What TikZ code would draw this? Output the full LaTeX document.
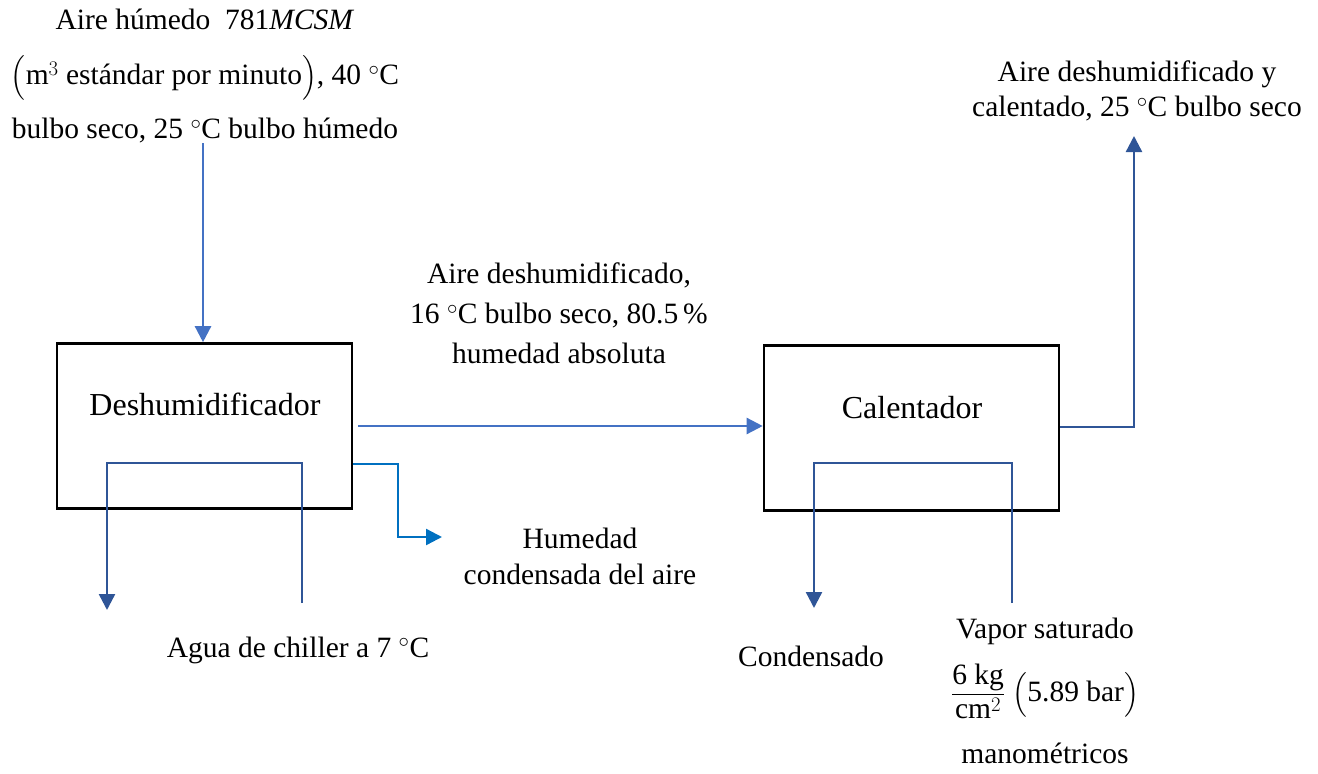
\documentclass[tikz,border=0pt]{standalone}
\usepackage{amsmath}
\usepackage{fontspec}
\setmainfont{Liberation Serif}
\usetikzlibrary{arrows.meta}
\definecolor{airblue}{HTML}{4472C4}
\definecolor{waterblue}{HTML}{2F5597}
\definecolor{dropblue}{HTML}{0070C0}

\begin{document}
\begin{tikzpicture}[x=1pt, y=-1pt,
        unit/.style={draw, line width=2.6pt, minimum width=295pt, minimum height=165pt},
        unitname/.style={anchor=base, font=\fontsize{32}{38}\selectfont},
        flow/.style={line width=2.4pt, -{Triangle[length=16pt,width=16pt]}},
        txt/.style={align=center, inner sep=0pt, font=\fontsize{29.5}{34}\selectfont}]
        \useasboundingbox (0,0) rectangle (1318,774);
        % equipos
        \node[unit] (desh) at (204.5,426) {};
        \node[unit] (calen) at (911.5,428) {};
        \node[unitname] at (205,415) {Deshumidificador};
        \node[unitname] at (912,418) {Calentador};
        % puntos libres de las corrientes
        \coordinate (feed) at (203,143);
        \coordinate (product) at (1134,136);
        \coordinate (drain) at (442,537);
        \coordinate (chw in) at (302,603);
        \coordinate (chw out) at (107,610);
        \coordinate (steam in) at (1012,603);
        \coordinate (cond out) at (814,608);
        % corrientes de aire
        \draw[flow, airblue] (feed) -- (feed |- desh.north);
        \draw[flow, airblue] ([xshift=5pt]desh.east |- 0,426) -- (calen.west |- 0,426);
        \draw[flow, waterblue] (calen.east |- 0,427) -| (product);
        \draw[flow, dropblue] (desh.east |- 0,464) -| (398,500) |- (drain);
        % agua de chiller y vapor
        \draw[flow, waterblue] (chw in) |- (200,463) -| (chw out);
        \draw[flow, waterblue] (steam in) |- (900,463) -| (cond out);
        % etiquetas
        \node[txt, anchor=north, font=\fontsize{29.5}{54.5}\selectfont] at (205,9)
            {Aire húmedo\ \ 781\textit{MCSM}\\
             $\Bigl($m$^3$ estándar por minuto$\Bigr)$, 40 $^{\circ}$C\\
             bulbo seco, 25 $^{\circ}$C bulbo húmedo};
        \node[txt, anchor=north, font=\fontsize{29.5}{40}\selectfont] at (559,263)
            {Aire deshumidificado,\\
             16 $^{\circ}$C bulbo seco, 80.5\,\%\\
             humedad absoluta};
        \node[txt, anchor=north, font=\fontsize{29.5}{35}\selectfont] at (1137,61)
            {Aire deshumidificado y\\
             calentado, 25 $^{\circ}$C bulbo seco};
        \node[txt, anchor=north, font=\fontsize{29.5}{36}\selectfont] at (580,528)
            {Humedad\\ condensada del aire};
        \node[txt, anchor=base] at (298,657) {Agua de chiller a 7 $^{\circ}$C};
        \node[txt, anchor=base] at (811,666) {Condensado};
        \node[txt, anchor=north, font=\fontsize{29.5}{62.5}\selectfont] at (1045,618)
            {Vapor saturado\\
             $\dfrac{\text{6 kg}}{\text{cm}^2}$ $\Bigl($5.89 bar$\Bigr)$\\
             manométricos};
\end{tikzpicture}
\end{document}
